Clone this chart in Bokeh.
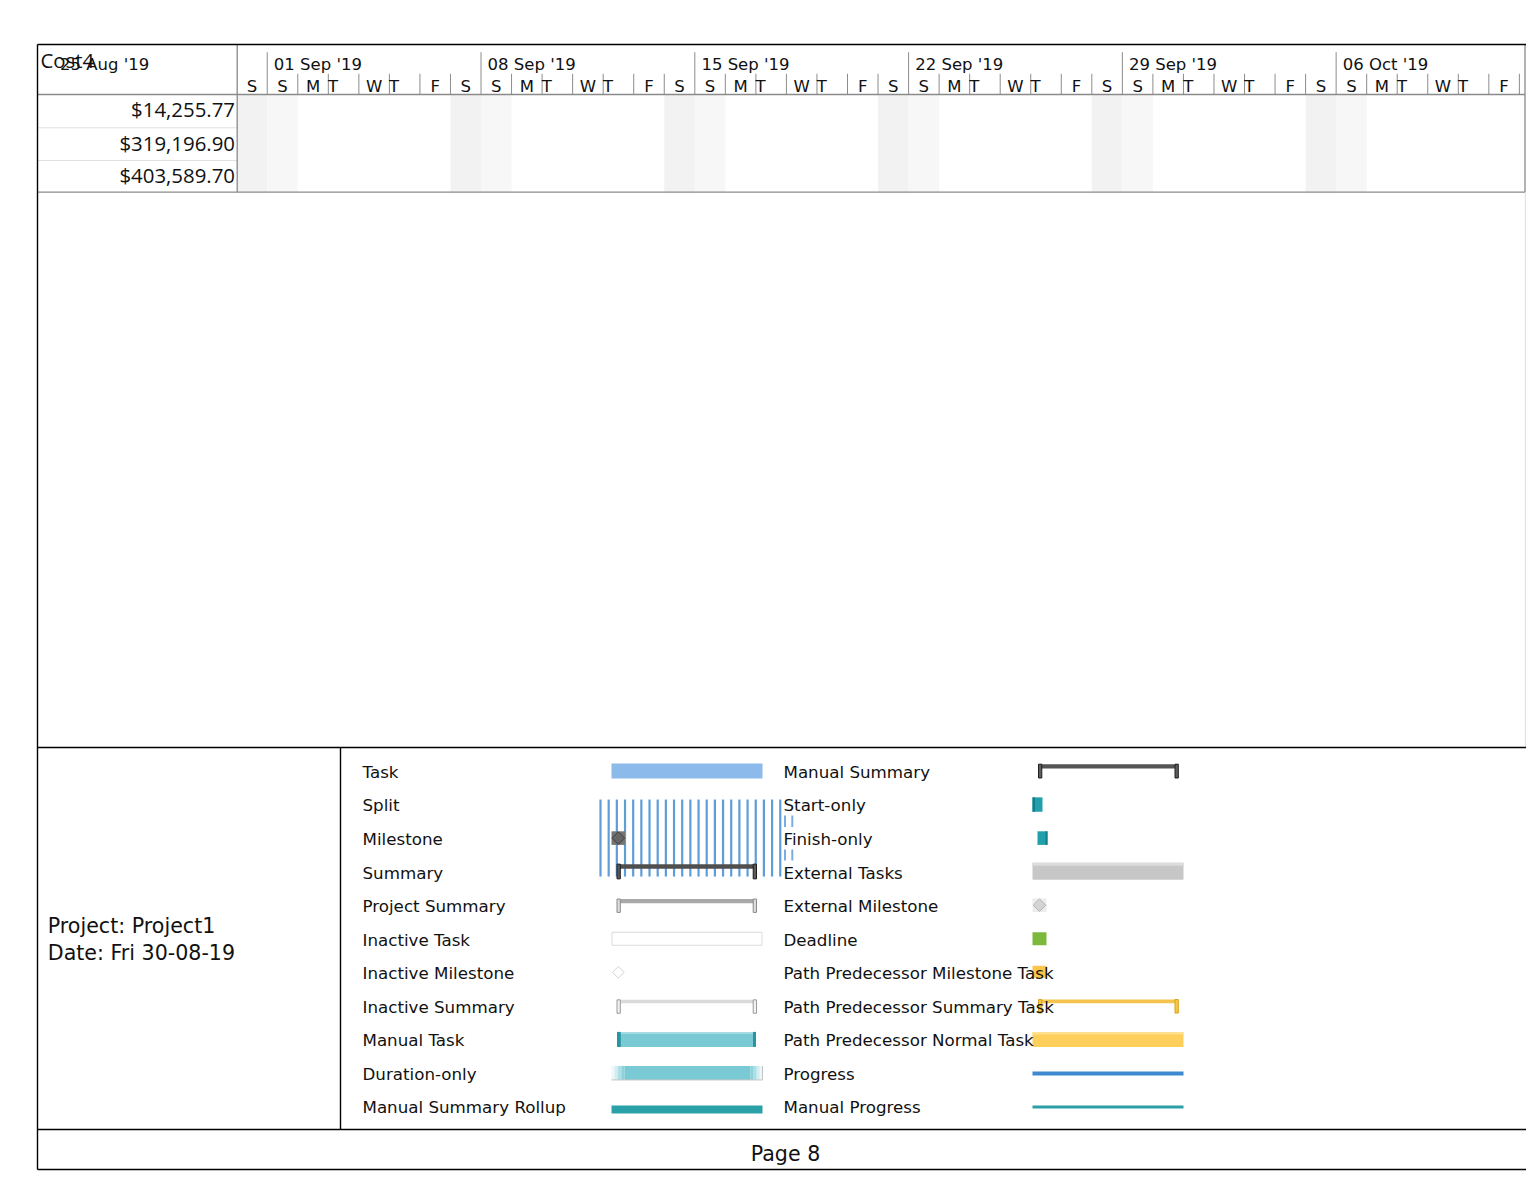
import pandas as pd
from bokeh.plotting import figure
from bokeh.models import Range1d
from bokeh.core.properties import value
from bokeh.embed import file_html
from bokeh.resources import INLINE

# ---------------- data ----------------
table_header = "Cost4"
cost_values = ["$14,255.77", "$319,196.90", "$403,589.70"]

timeline_start = "2019-08-31"
timeline_end = "2019-10-11"
week_starts = ["2019-08-25", "2019-09-01", "2019-09-08", "2019-09-15",
               "2019-09-22", "2019-09-29", "2019-10-06"]
week_labels = ["25 Aug '19", "01 Sep '19", "08 Sep '19", "15 Sep '19",
               "22 Sep '19", "29 Sep '19", "06 Oct '19"]
weekday_letters = ["M", "T", "W", "T", "F", "S", "S"]  # Monday first

legend_left = ["Task", "Split", "Milestone", "Summary", "Project Summary",
               "Inactive Task", "Inactive Milestone", "Inactive Summary",
               "Manual Task", "Duration-only", "Manual Summary Rollup"]
legend_right = ["Manual Summary", "Start-only", "Finish-only", "External Tasks",
                "External Milestone", "Deadline", "Path Predecessor Milestone Task",
                "Path Predecessor Summary Task", "Path Predecessor Normal Task",
                "Progress", "Manual Progress"]

project_lines = ["Project: Project1", "Date: Fri 30-08-19"]
page_label = "Page 8"

# ---------------- layout ----------------
W, H = 1526, 1188
X_L, X_TBL, X_R = 37, 236.7, 1524.5
Y_TOP, Y_HDR, Y_BODY = 44, 94, 191.7
ROW_LINES = [127.3, 160.0]
COST_BASE = [116.0, 150.0, 181.7]
DAY0_X, DAY_W = 236.2, 30.54
Y_LEG_TOP, Y_LEG_BOT, Y_PAGE_BOT = 747, 1129, 1169
X_LEG_DIV = 340
LEG_BASE0, LEG_DY = 777.3, 33.55
LEG_YC0 = 770.5

DV = value("DejaVu Sans")
OS = value("Open Sans")
# bokeh places the text box slightly below the alphabetic baseline; compensate
DV_SHIFT = 0.352
OS_SHIFT = 0.36

FS_TS = 16.5     # timescale
FS_LEG = 16.7    # legend
FS_BIG = 20.6    # project info / page
FS_COST = 20.4   # table

t0 = pd.Timestamp(timeline_start)


def day_x(d):
    return DAY0_X + (pd.Timestamp(d) - t0).days * DAY_W


p = figure(width=W, height=H, x_range=Range1d(0, W), y_range=Range1d(H, 0),
           output_backend="svg", toolbar_location=None, min_border=0,
           x_axis_location=None, y_axis_location=None)
p.grid.visible = False
p.outline_line_color = None
p.background_fill_color = "white"
p.border_fill_color = "white"


def txt(xs, ys, texts, font, fs, shift, align="left", color="#111111"):
    p.text(x=xs, y=[y - shift * fs for y in ys], text=texts, text_font=font,
           text_font_size=f"{fs}px", text_align=align, text_baseline="alphabetic",
           text_color=color)


# ---- weekend shading in gantt body ----
days = pd.date_range(timeline_start, timeline_end)
sh_l, sh_r, sh_c = [], [], []
for d in days:
    if d.weekday() >= 5:
        sh_l.append(max(day_x(d), X_TBL))
        sh_r.append(day_x(d) + DAY_W)
        sh_c.append("#f2f2f2" if d.weekday() == 5 else "#f7f7f7")
p.quad(left=sh_l, right=sh_r, top=[Y_HDR] * len(sh_l), bottom=[Y_BODY] * len(sh_l),
       fill_color=sh_c, line_color=None)

# ---- timescale separators ----
sx, sy0 = [], []
for d in list(days[1:]) + [days[-1] + pd.Timedelta(days=1)]:
    sx.append(day_x(d))
    sy0.append(51.7 if d.weekday() == 6 else 73.3)
p.segment(x0=sx, y0=sy0, x1=sx, y1=[Y_HDR] * len(sx), line_color="#8c8c8c", line_width=1)

# day letters
lx_c, lt_c, lx_l, lt_l = [], [], [], []
for d in days:
    letter = weekday_letters[d.weekday()]
    if letter == "T":
        lx_l.append(day_x(d) - 0.3)
        lt_l.append(letter)
    else:
        lx_c.append(day_x(d) + DAY_W / 2)
        lt_c.append(letter)
txt(lx_c, [92.0] * len(lx_c), lt_c, DV, FS_TS, DV_SHIFT, "center")
txt(lx_l, [92.0] * len(lx_l), lt_l, DV, FS_TS, DV_SHIFT, "left")

# week labels
wx = [day_x(w) + 6.6 for w in week_starts]
txt(wx, [70.0] * len(wx), week_labels, DV, FS_TS, DV_SHIFT)

# ---- table ----
txt([40], [66.7], [table_header], OS, FS_COST, OS_SHIFT)
p.segment(x0=[X_L] * 2, y0=ROW_LINES, x1=[X_TBL] * 2, y1=ROW_LINES,
          line_color="#e0e0e0", line_width=1)
txt([234.5] * 3, COST_BASE, cost_values, OS, FS_COST, OS_SHIFT, "right")

# grey frame lines of the view
p.segment(x0=[X_L, X_L], y0=[Y_HDR, Y_BODY], x1=[X_R, X_R], y1=[Y_HDR, Y_BODY],
          line_color="#8a8a8a", line_width=1.3)
p.segment(x0=[X_TBL, X_R], y0=[Y_TOP, Y_TOP], x1=[X_TBL, X_R], y1=[Y_BODY, Y_BODY],
          line_color="#8a8a8a", line_width=1.3)
p.segment(x0=[1525], y0=[Y_BODY], x1=[1525], y1=[Y_LEG_TOP],
          line_color="#e2e2e2", line_width=1.3)

# ---- page frame (black) ----
p.segment(x0=[X_L, X_L, X_L, X_L], y0=[Y_TOP, Y_LEG_TOP, Y_LEG_BOT, Y_PAGE_BOT],
          x1=[1526] * 4, y1=[Y_TOP, Y_LEG_TOP, Y_LEG_BOT, Y_PAGE_BOT],
          line_color="black", line_width=1.4)
p.segment(x0=[X_L, X_LEG_DIV], y0=[Y_TOP, Y_LEG_TOP], x1=[X_L, X_LEG_DIV],
          y1=[Y_PAGE_BOT, Y_LEG_BOT], line_color="black", line_width=1.4)

# project info + page
txt([47.3, 47.3], [932.7, 959.3], project_lines, DV, FS_BIG, DV_SHIFT)
txt([785], [1161], [page_label], DV, FS_BIG, DV_SHIFT, "center")

# ---- legend symbols ----
yc = [LEG_YC0 + LEG_DY * i for i in range(len(legend_left))]
LA, LB = 611, 762
RA, RB = 1032, 1183


def rect(x0, x1, y0, y1, fill, line=None, lw=1, alpha=1.0):
    p.quad(left=[x0], right=[x1], top=[y0], bottom=[y1], fill_color=fill,
           fill_alpha=alpha, line_color=line, line_width=lw)


def diamond(cx, cy, r, fill, line, lw=1):
    p.patch(x=[cx, cx + r, cx, cx - r], y=[cy - r, cy, cy + r, cy], fill_color=fill,
            line_color=line, line_width=lw)


def summary_bar(x0, x1, c, bar_top, bar_bot, br_bot, bar_col, br_fill, br_line):
    rect(x0 + 1, x1 - 1, c + bar_top, c + bar_bot, bar_col)
    rect(x0 - 0.5, x0 + 2.8, c + bar_top, c + br_bot, br_fill, br_line, 1)
    rect(x1 - 3.3, x1, c + bar_top, c + br_bot, br_fill, br_line, 1)


# Task
rect(LA, LB, yc[0] - 7.5, yc[0] + 7.5, "#8cbaea")
# Split stripes
stripe_x = [600 + 8.17 * k for k in range(23)]
p.segment(x0=stripe_x, y0=[yc[1] - 5] * 23, x1=stripe_x, y1=[yc[1] + 72] * 23,
          line_color="#5f9cd8", line_width=2.2)
dash_x = [784.5, 791.8]
p.segment(x0=dash_x * 2, y0=[815] * 2 + [849] * 2, x1=dash_x * 2, y1=[826.5] * 2 + [860] * 2,
          line_color="#7aaee0", line_width=2)
# Milestone
rect(611, 624.5, yc[2] - 6.8, yc[2] + 6.8, "#737373")
diamond(617.8, yc[2], 6.3, "#666666", "#3f3f3f", 1)
# Summary
summary_bar(617, 756, yc[3], -7.5, -3.0, 7.2, "#4f4f4f", "#5a5a5a", "#1e1e1e")
# Project Summary
summary_bar(617, 756, yc[4], -6.2, -2.0, 7.2, "#a9a9a9", "#dcdcdc", "#8a8a8a")
# Inactive Task
rect(LA + 0.5, LB - 0.5, yc[5] - 6.5, yc[5] + 6.5, "white", "#dadada", 1)
# Inactive Milestone
diamond(617.8, yc[6], 5.8, "white", "#d3d3d3", 1)
# Inactive Summary
summary_bar(617, 756, yc[7], -6.0, -2.6, 7.4, "#dadada", "#f2f2f2", "#9a9a9a")
# Manual Task
rect(617, 755, yc[8] - 7.5, yc[8] + 7.5, "#79cad4")
rect(617, 755, yc[8] - 7.5, yc[8] - 5.5, "#a3dce3")
rect(616.5, 620.3, yc[8] - 7.5, yc[8] + 7.5, "#2a95a2")
rect(752.5, 755.5, yc[8] - 7.5, yc[8] + 7.5, "#2a95a2")
# Duration-only
rect(624, 750, yc[9] - 7, yc[9] + 7, "#79cad4")
for k, a in enumerate([0.15, 0.35, 0.6, 0.85]):
    rect(LA + 3.25 * k, LA + 3.25 * (k + 1), yc[9] - 7, yc[9] + 7, "#79cad4", alpha=a)
    rect(LB - 3 * (k + 1), LB - 3 * k, yc[9] - 7, yc[9] + 7, "#79cad4", alpha=a)
p.segment(x0=[LA, LB], y0=[yc[9] + 7, yc[9] - 7], x1=[LB, LB], y1=[yc[9] + 7, yc[9] + 7],
          line_color="#c4c4c4", line_width=1)
# Manual Summary Rollup
rect(LA, LB, yc[10] - 1, yc[10] + 7, "#2aa1a9")

# right column
summary_bar(1038.5, 1177.8, yc[0], -6.8, -2.6, 7.0, "#555555", "#5e5e5e", "#1e1e1e")
# Start-only
rect(RA, RA + 10, yc[1] - 7.2, yc[1] + 7.2, "#21a0ab")
rect(RA, RA + 2.5, yc[1] - 7.2, yc[1] + 7.2, "#137f8b")
# Finish-only
rect(RA + 5, RA + 15, yc[2] - 6.8, yc[2] + 6.8, "#21a0ab")
rect(RA + 13, RA + 15, yc[2] - 6.8, yc[2] + 6.8, "#137f8b")
# External Tasks
rect(RA, RB, yc[3] - 9, yc[3] + 8, "#c7c7c7")
rect(RA, RB, yc[3] - 9, yc[3] - 6, "#dcdcdc")
# External Milestone
rect(RA, RA + 14, yc[4] - 6.8, yc[4] + 6.8, "#ececec")
diamond(RA + 7, yc[4], 6.3, "#d4d4d4", "#b4b4b4", 1)
# Deadline
rect(RA, RA + 14, yc[5] - 6.5, yc[5] + 6.5, "#7cb93b")
# Path Predecessor Milestone Task
rect(RA, RA + 14, yc[6] - 6.5, yc[6] + 5.5, "#fbc64b")
# Path Predecessor Summary Task
summary_bar(1038.5, 1177.8, yc[7], -6.3, -2.6, 7.2, "#f5c44f", "#f8c846", "#d9a21c")
# Path Predecessor Normal Task
rect(RA, RB, yc[8] - 7.5, yc[8] + 7.5, "#ffcf5c")
rect(RA, RB, yc[8] - 7.5, yc[8] - 5, "#ffe08f")
# Progress
rect(RA, RB, yc[9] - 1.5, yc[9] + 2.5, "#3d88d0")
# Manual Progress
rect(RA, RB, yc[10] - 1, yc[10] + 2, "#2aa0a6")

# ---- legend texts ----
base = [LEG_BASE0 + LEG_DY * i for i in range(len(legend_left))]
txt([362] * len(legend_left), base, legend_left, DV, FS_LEG, DV_SHIFT)
txt([783] * len(legend_right), base, legend_right, DV, FS_LEG, DV_SHIFT)

open("out.html", "w").write(file_html(p, INLINE))
